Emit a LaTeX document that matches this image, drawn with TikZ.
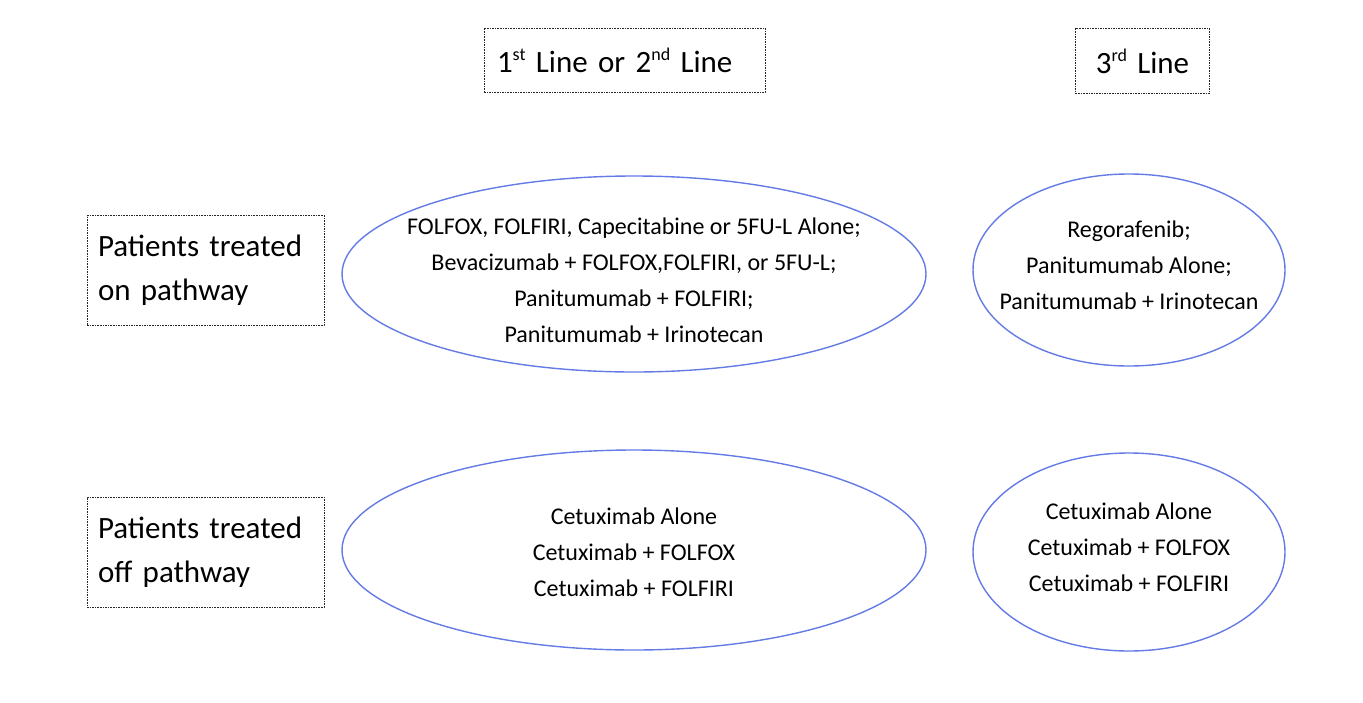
\documentclass[tikz,border=0pt]{standalone}
\usepackage{fontspec}
\setmainfont{Carlito}
\usetikzlibrary{shapes.geometric}
\definecolor{ellblue}{RGB}{100,122,228}
\newcommand{\supx}[1]{\raisebox{0.38em}{\fontsize{18}{18}\selectfont #1}}
\begin{document}
\begin{tikzpicture}[x=1pt,y=-1pt,
  dbox/.style={draw=black!85, line width=0.9pt, dash pattern=on 1.6pt off 1pt, inner ysep=0pt},
  oval/.style={ellipse, draw=ellblue, line width=1.4pt, inner sep=0pt},
  otext/.style={align=center, font=\fontsize{24}{36}\selectfont, inner sep=0pt},
  ltext/.style={font=\fontsize{31}{44}\selectfont}]
\useasboundingbox (0,0) rectangle (1363,702);
% headers
\node[dbox, ltext, text width=255pt, align=left, inner xsep=13pt, minimum height=64pt] (h1) at (624.5,60) {1\supx{st} Line or 2\supx{nd} Line};
\node[dbox, ltext, text width=108pt, align=center, inner xsep=13pt, minimum height=65pt] (h2) at (1142.5,61) {3\supx{rd} Line};
% row labels
\node[dbox, ltext, text width=215pt, align=left, inner xsep=11pt, minimum height=110pt] (p1) at (205.5,270.5) {Patients treated\\on pathway};
\node[dbox, ltext, text width=215pt, align=left, inner xsep=11pt, minimum height=110pt] (p2) at (205.5,552) {Patients treated\\off pathway};
% ellipses
\node[oval, minimum width=584pt, minimum height=196pt] (e1) at (634,274) {};
\node[otext] (t1) at (634,280) {FOLFOX, FOLFIRI, Capecitabine or 5FU-L Alone;\\Bevacizumab + FOLFOX,FOLFIRI, or 5FU-L;\\Panitumumab + FOLFIRI;\\Panitumumab + Irinotecan};
\node[oval, minimum width=312pt, minimum height=192pt] (e2) at (1129,270) {};
\node[otext] (t2) at (1129,265) {Regorafenib;\\Panitumumab Alone;\\Panitumumab + Irinotecan};
\node[oval, minimum width=584pt, minimum height=200pt] (e3) at (634,550) {};
\node[otext] (t3) at (634,552) {Cetuximab Alone\\Cetuximab + FOLFOX\\Cetuximab + FOLFIRI};
\node[oval, minimum width=312pt, minimum height=198pt] (e4) at (1129,552) {};
\node[otext] (t4) at (1129,547) {Cetuximab Alone\\Cetuximab + FOLFOX\\Cetuximab + FOLFIRI};
\end{tikzpicture}
\end{document}
